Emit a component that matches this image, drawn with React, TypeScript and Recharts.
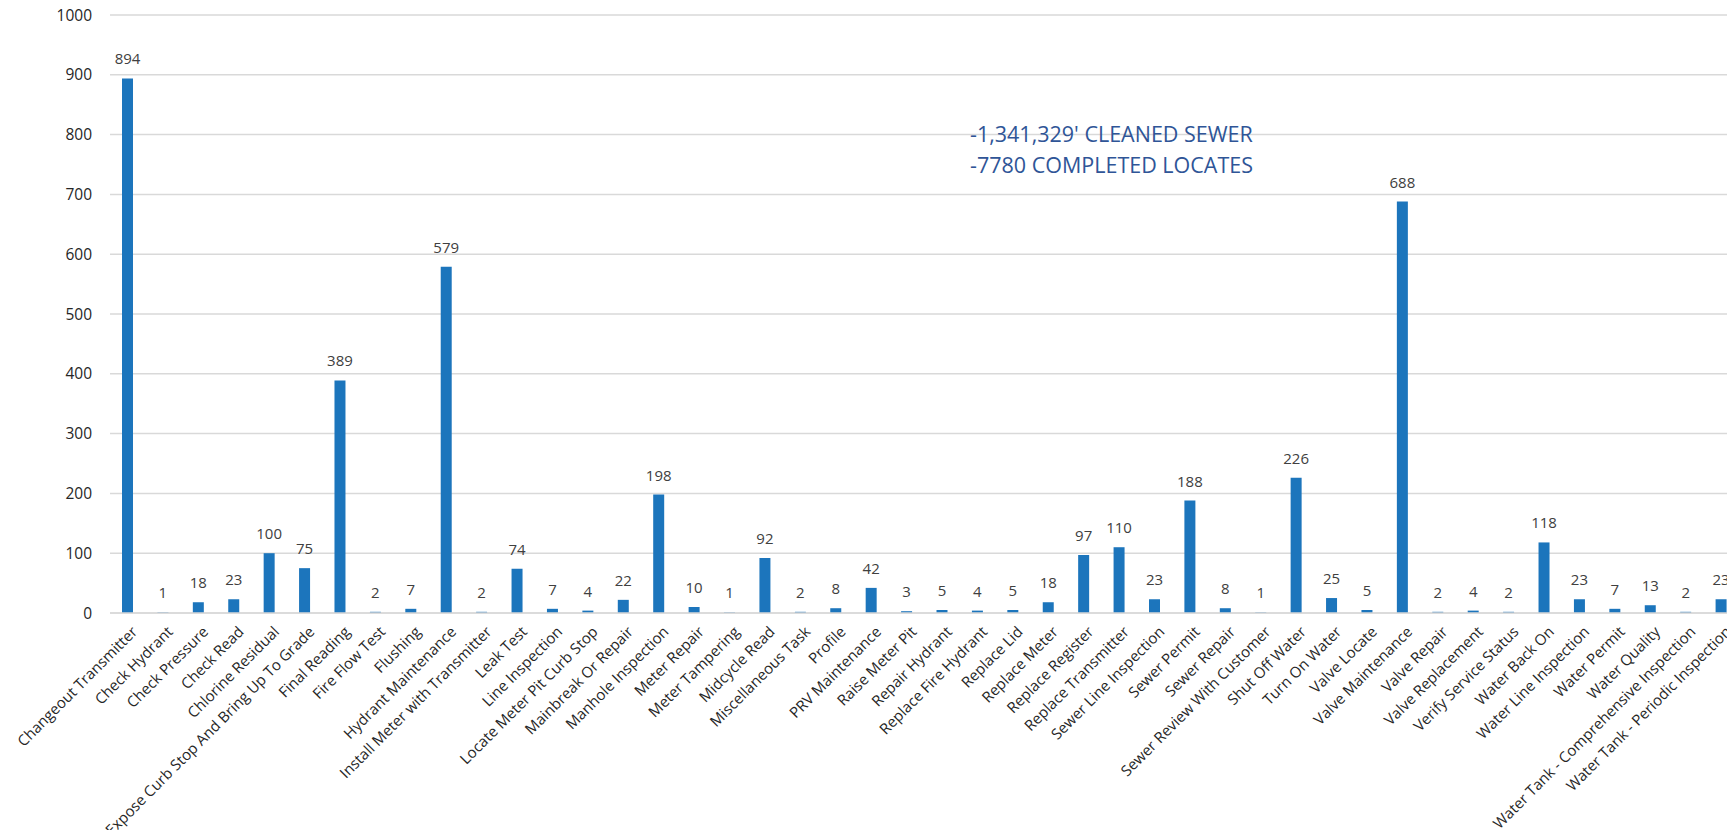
import React from "react";
import {
  BarChart,
  Bar,
  XAxis,
  YAxis,
  CartesianGrid,
  LabelList,
} from "recharts";

const categories = [
  "Changeout Transmitter",
  "Check Hydrant",
  "Check Pressure",
  "Check Read",
  "Chlorine Residual",
  "Expose Curb Stop And Bring Up To Grade",
  "Final Reading",
  "Fire Flow Test",
  "Flushing",
  "Hydrant Maintenance",
  "Install Meter with Transmitter",
  "Leak Test",
  "Line Inspection",
  "Locate Meter Pit Curb Stop",
  "Mainbreak Or Repair",
  "Manhole Inspection",
  "Meter Repair",
  "Meter Tampering",
  "Midcycle Read",
  "Miscellaneous Task",
  "Profile",
  "PRV Maintenance",
  "Raise Meter Pit",
  "Repair Hydrant",
  "Replace Fire Hydrant",
  "Replace Lid",
  "Replace Meter",
  "Replace Register",
  "Replace Transmitter",
  "Sewer Line Inspection",
  "Sewer Permit",
  "Sewer Repair",
  "Sewer Review With Customer",
  "Shut Off Water",
  "Turn On Water",
  "Valve Locate",
  "Valve Maintenance",
  "Valve Repair",
  "Valve Replacement",
  "Verify Service Status",
  "Water Back On",
  "Water Line Inspection",
  "Water Permit",
  "Water Quality",
  "Water Tank - Comprehensive Inspection",
  "Water Tank - Periodic Inspection",
];

const counts = [
  894, 1, 18, 23, 100, 75, 389, 2, 7, 579, 2, 74, 7, 4, 22, 198, 10, 1, 92, 2,
  8, 42, 3, 5, 4, 5, 18, 97, 110, 23, 188, 8, 1, 226, 25, 5, 688, 2, 4, 2, 118,
  23, 7, 13, 2, 23,
];

const yTicks = [0, 100, 200, 300, 400, 500, 600, 700, 800, 900, 1000];

const notes = ["-1,341,329' CLEANED SEWER", "-7780 COMPLETED LOCATES"];

const data = categories.map((name, i) => ({ name, value: counts[i] }));

const font = "'Open Sans', 'Noto Sans', sans-serif";

// rotated category label, right end sits just under the bar
const XTick = (props: any) => {
  const { x, y, payload } = props;
  return (
    <g transform={`translate(${x + 7},${y + 8})`}>
      <text
        x={0}
        y={0}
        dy="0.35em"
        textAnchor="end"
        transform="rotate(-45)"
        fill="#262626"
        fontSize={15}
        fontFamily={font}
      >
        {payload.value}
      </text>
    </g>
  );
};

export default function App() {
  return (
    <div
      style={{
        position: "absolute",
        left: 0,
        top: 0,
        width: 1727,
        height: 830,
        overflow: "hidden",
        background: "#fff",
      }}
    >
      <BarChart
        width={1760}
        height={830}
        data={data}
        margin={{ top: 15, right: 21, bottom: 0, left: 0 }}
        barCategoryGap={0}
      >
        <CartesianGrid vertical={false} stroke="#D9D9D9" strokeWidth={1.5} />
        <XAxis
          dataKey="name"
          interval={0}
          height={217}
          tick={<XTick />}
          tickLine={false}
          axisLine={{ stroke: "#D9D9D9", strokeWidth: 1.5 }}
        />
        <YAxis
          width={110}
          domain={[0, 1000]}
          ticks={yTicks}
          tickLine={false}
          axisLine={false}
          tickMargin={12}
          tick={{ fill: "#262626", fontSize: 15.5, fontFamily: font }}
        />
        <Bar
          dataKey="value"
          fill="#1C75BC"
          barSize={11}
          isAnimationActive={false}
        >
          <LabelList
            dataKey="value"
            position="top"
            offset={14}
            fill="#404040"
            fontSize={15}
            fontFamily={font}
          />
        </Bar>
      </BarChart>
      <div
        style={{
          position: "absolute",
          left: 970,
          top: 118,
          color: "#2F5597",
          fontFamily: font,
          fontSize: 21.5,
          lineHeight: "31px",
        }}
      >
        {notes.map((n) => (
          <div key={n}>{n}</div>
        ))}
      </div>
    </div>
  );
}
